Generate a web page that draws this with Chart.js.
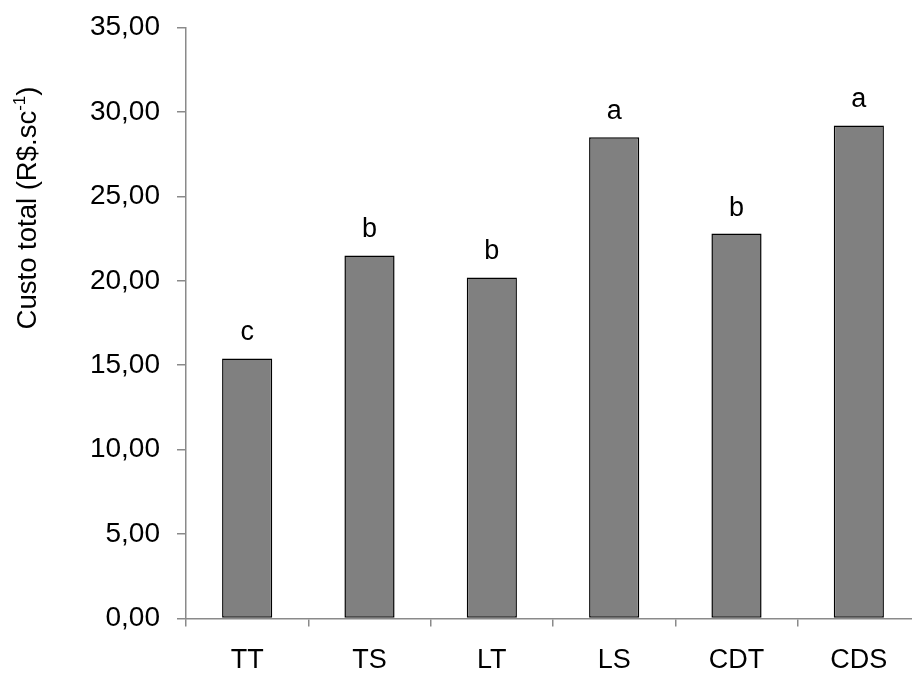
<!DOCTYPE html>
<html>
<head>
<meta charset="utf-8">
<script src="https://cdn.jsdelivr.net/npm/chart.js@4"></script>
<style>
  html, body { margin: 0; padding: 0; background: #fff; overflow: hidden; }
  #wrap { position: relative; width: 930px; height: 674px; }
</style>
</head>
<body>
<div id="wrap"><canvas id="chart" width="930" height="674"></canvas></div>
<script>
// Treatments and total cost per sack (R$)
const categories = ['TT', 'TS', 'LT', 'LS', 'CDT', 'CDS'];
const custoTotal = [15.4, 21.5, 20.2, 28.5, 22.8, 29.2];
const letras = ['c', 'b', 'b', 'a', 'b', 'a'];
const yTitleMain = 'Custo total (R$.sc';
const yTitleSup = '-1';
const yTitleEnd = ')';

const FONT = 'Liberation Sans, Arial, Helvetica, sans-serif';
const AXIS_GRAY = '#8a8a8a';

// Letters of the mean comparison test, written above each bar
const letterPlugin = {
  id: 'letterPlugin',
  afterDatasetsDraw(chart) {
    const ctx = chart.ctx;
    const meta = chart.getDatasetMeta(0);
    ctx.save();
    ctx.font = '27px ' + FONT;
    ctx.fillStyle = '#000';
    ctx.textAlign = 'center';
    ctx.textBaseline = 'alphabetic';
    meta.data.forEach((bar, i) => {
      ctx.fillText(letras[i], bar.x, bar.y - 18);
    });
    ctx.restore();
  }
};

// Rotated y-axis title with a superscript exponent
const yTitlePlugin = {
  id: 'yTitlePlugin',
  afterDraw(chart) {
    const ctx = chart.ctx;
    ctx.save();
    ctx.translate(28, 208);
    ctx.rotate(-Math.PI / 2);
    ctx.fillStyle = '#000';
    ctx.textBaseline = 'middle';
    ctx.textAlign = 'left';
    const mainFont = '27.5px ' + FONT;
    const supFont = '17px ' + FONT;
    ctx.font = mainFont;
    const w1 = ctx.measureText(yTitleMain).width;
    const w3 = ctx.measureText(yTitleEnd).width;
    ctx.font = supFont;
    const w2 = ctx.measureText(yTitleSup).width;
    const total = w1 + w2 + w3;
    let x = -total / 2;
    ctx.font = mainFont;
    ctx.fillText(yTitleMain, x, 0);
    x += w1;
    ctx.font = supFont;
    ctx.fillText(yTitleSup, x, -8);
    x += w2;
    ctx.font = mainFont;
    ctx.fillText(yTitleEnd, x, 0);
    ctx.restore();
  }
};

new Chart(document.getElementById('chart'), {
  type: 'bar',
  data: {
    labels: categories,
    datasets: [{
      data: custoTotal,
      backgroundColor: '#808080',
      borderColor: '#000000',
      borderWidth: 1.5,
      borderSkipped: false,
      barPercentage: 0.41,
      categoryPercentage: 1.0
    }]
  },
  options: {
    responsive: false,
    animation: false,
    events: [],
    layout: { padding: { top: 27.5, right: 10, left: 0, bottom: 0 } },
    plugins: {
      legend: { display: false },
      title: { display: false },
      tooltip: { enabled: false }
    },
    scales: {
      x: {
        offset: true,
        grid: {
          offset: true,
          drawOnChartArea: false,
          drawTicks: true,
          tickLength: 8,
          color: AXIS_GRAY,
          lineWidth: 1.5
        },
        border: { display: true, color: AXIS_GRAY, width: 1.5 },
        ticks: {
          color: '#000',
          font: { family: FONT, size: 27 },
          padding: 18,
          maxRotation: 0
        },
        afterFit(scale) {
          scale.height = 55.5;
          scale.paddingLeft = 0;
          scale.paddingRight = 0;
        }
      },
      y: {
        min: 0,
        max: 35,
        grid: {
          drawOnChartArea: false,
          drawTicks: true,
          tickLength: 9,
          color: AXIS_GRAY,
          lineWidth: 1.5
        },
        border: { display: true, color: AXIS_GRAY, width: 1.5 },
        ticks: {
          stepSize: 5,
          color: '#000',
          font: { family: FONT, size: 28 },
          padding: 17,
          callback: (v) => v.toFixed(2).replace('.', ',')
        },
        afterFit(scale) {
          scale.width = 186;
          scale.paddingTop = 0;
          scale.paddingBottom = 0;
        }
      }
    }
  },
  plugins: [letterPlugin, yTitlePlugin]
});
</script>
</body>
</html>
